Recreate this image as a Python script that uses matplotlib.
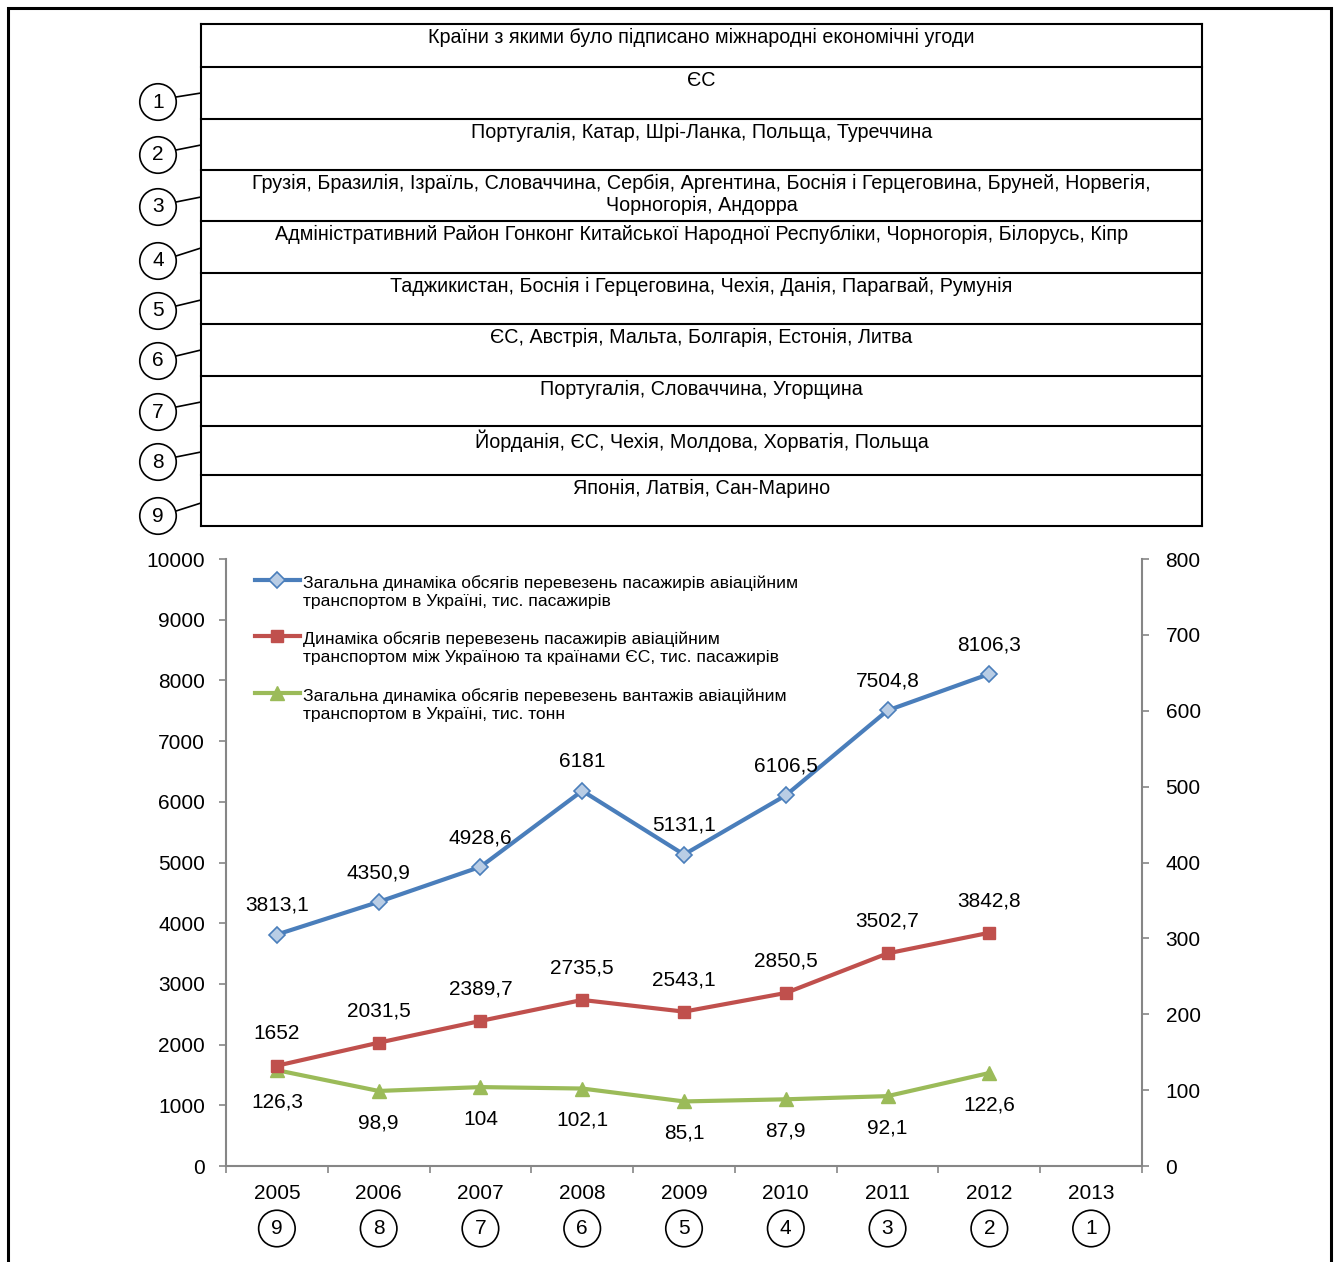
import matplotlib.pyplot as plt
from matplotlib.legend_handler import HandlerLine2D

plt.rcParams['font.family'] = ['Liberation Sans', 'DejaVu Sans']

# data
years = ['2005', '2006', '2007', '2008', '2009', '2010', '2011', '2012', '2013']
year_marks = [9, 8, 7, 6, 5, 4, 3, 2, 1]
total_pass = [3813.1, 4350.9, 4928.6, 6181, 5131.1, 6106.5, 7504.8, 8106.3]
eu_pass = [1652, 2031.5, 2389.7, 2735.5, 2543.1, 2850.5, 3502.7, 3842.8]
cargo = [126.3, 98.9, 104, 102.1, 85.1, 87.9, 92.1, 122.6]

table_header = 'Країни з якими було підписано міжнародні економічні угоди'
table_rows = [
    'ЄС',
    'Португалія, Катар, Шрі-Ланка, Польща, Туреччина',
    'Грузія, Бразилія, Ізраїль, Словаччина, Сербія, Аргентина, Боснія і Герцеговина, Бруней, Норвегія,\nЧорногорія, Андорра',
    'Адміністративний Район Гонконг Китайської Народної Республіки, Чорногорія, Білорусь, Кіпр',
    'Таджикистан, Боснія і Герцеговина, Чехія, Данія, Парагвай, Румунія',
    'ЄС, Австрія, Мальта, Болгарія, Естонія, Литва',
    'Португалія, Словаччина, Угорщина',
    'Йорданія, ЄС, Чехія, Молдова, Хорватія, Польща',
    'Японія, Латвія, Сан-Марино',
]
row_marks = [1, 2, 3, 4, 5, 6, 7, 8, 9]

legend_labels = [
    'Загальна динаміка обсягів перевезень пасажирів авіаційним\nтранспортом в Україні, тис. пасажирів',
    'Динаміка обсягів перевезень пасажирів авіаційним\nтранспортом між Україною та країнами ЄС, тис. пасажирів',
    'Загальна динаміка обсягів перевезень вантажів авіаційним\nтранспортом в Україні, тис. тонн',
]


class FirstLineHandler(HandlerLine2D):
    # put the legend line next to the first text line, not the middle
    shift = 8.5

    def create_artists(self, legend, orig_handle, xdescent, ydescent,
                       width, height, fontsize, trans):
        return super().create_artists(legend, orig_handle, xdescent,
                                      ydescent - 2 * self.shift, width,
                                      height, fontsize, trans)


W, H = 1339, 1262
fig = plt.figure(figsize=(W / 100, H / 100), dpi=100)

# ---- chart ----
ax = fig.add_axes([226 / W, 1 - 1166 / H, (1142 - 226) / W, (1166 - 559) / H])
ax2 = ax.twinx()
ax.set_zorder(ax2.get_zorder() + 1)
ax.patch.set_visible(False)

gray = '#868686'
x = list(range(len(years)))
n = len(total_pass)

l1, = ax.plot(x[:n], total_pass, color='#4a7ebb', lw=3, marker='D', ms=8,
              mfc='#b9cde5', mec='#4a7ebb', mew=1.2, zorder=3)
l2, = ax.plot(x[:n], eu_pass, color='#c0504d', lw=3, marker='s', ms=9,
              mfc='#c0504d', mec='#c0504d', zorder=3)
l3, = ax2.plot(x[:n], cargo, color='#9bbb59', lw=3, marker='^', ms=10,
               mfc='#9bbb59', mec='#9bbb59', zorder=3)


def fmt(v):
    return f'{v:g}'.replace('.', ',')


for xi, v in zip(x, total_pass):
    ax.annotate(fmt(v), (xi, v), xytext=(0, 21), textcoords='offset points',
                ha='center', va='center', fontsize=15)
for xi, v in zip(x, eu_pass):
    ax.annotate(fmt(v), (xi, v), xytext=(0, 23), textcoords='offset points',
                ha='center', va='center', fontsize=15)
for xi, v in zip(x, cargo):
    ax2.annotate(fmt(v), (xi, v), xytext=(0, -23), textcoords='offset points',
                 ha='center', va='center', fontsize=15)

ax.set_xlim(-0.5, len(years) - 0.5)
ax.set_ylim(0, 10000)
ax2.set_ylim(0, 800)
ax.set_yticks(range(0, 10001, 1000))
ax2.set_yticks(range(0, 801, 100))
ax.set_xticks(x)
ax.set_xticklabels(years)
ax.set_xticks([i - 0.5 for i in range(len(years) + 1)], minor=True)

for a in (ax, ax2):
    a.spines['top'].set_visible(False)
    for s in ('left', 'right', 'bottom'):
        a.spines[s].set_color(gray)
        a.spines[s].set_linewidth(1.5)
ax.spines['right'].set_visible(False)
ax2.spines['left'].set_visible(False)
ax2.spines['bottom'].set_visible(False)

ax.tick_params(axis='y', direction='out', length=5, width=1.2, color=gray,
               labelsize=15, pad=10)
ax2.tick_params(axis='y', direction='out', length=5, width=1.2, color=gray,
                labelsize=15, pad=12)
ax.tick_params(axis='x', which='major', length=0, labelsize=15, pad=13)
ax.tick_params(axis='x', which='minor', length=5, width=1.2, color=gray)

for xi, m in zip(x, year_marks):
    ax.annotate(str(m), (xi, 0), xycoords=('data', 'axes fraction'),
                xytext=(0, -45), textcoords='offset points', ha='center',
                va='center', fontsize=15,
                bbox=dict(boxstyle='circle,pad=0.42', fc='white', ec='black', lw=1.2))

leg = ax.legend([l1, l2, l3], legend_labels, loc='upper left',
                bbox_to_anchor=(0.014, 1.0), frameon=False, fontsize=12.6,
                handlelength=2.6, handletextpad=0.15, labelspacing=1.3,
                numpoints=1, handler_map={l1: FirstLineHandler(),
                                          l2: FirstLineHandler(),
                                          l3: FirstLineHandler()})
for t in leg.get_texts():
    t.set_linespacing(1.25)

# ---- table, frame and circles (pixel overlay) ----
ov = fig.add_axes([0, 0, 1, 1])
ov.set_xlim(0, W)
ov.set_ylim(H, 0)
ov.axis('off')
ov.patch.set_visible(False)

ov.plot([8, 8, 1331, 1331], [H, 8, 8, H], color='black', lw=2.2,
        solid_joinstyle='miter')

tl, tr = 201, 1202
row_tops = [24, 67, 119, 170, 221, 273, 324, 376, 426, 475, 526]
for y in row_tops:
    ov.plot([tl, tr], [y, y], color='black', lw=1.5)
ov.plot([tl, tl], [row_tops[0], row_tops[-1]], color='black', lw=1.5)
ov.plot([tr, tr], [row_tops[0], row_tops[-1]], color='black', lw=1.5)

cx = (tl + tr) / 2
ov.text(cx, row_tops[0] + 4, table_header, ha='center', va='top',
        fontsize=14.2, linespacing=1.2)
for top, txt in zip(row_tops[1:], table_rows):
    ov.text(cx, top + 4, txt, ha='center', va='top', fontsize=14.2,
            linespacing=1.2)

circle_y = [102, 155, 207, 261, 311, 361, 412, 462, 516]
link_y = [93, 145, 197, 248, 300, 350, 402, 452, 503]
for m, cy, ly in zip(row_marks, circle_y, link_y):
    ov.plot([176, tl], [cy - 5, ly], color='black', lw=1.2)
    ov.text(158, cy, str(m), ha='center', va='center', fontsize=15,
            bbox=dict(boxstyle='circle,pad=0.42', fc='white', ec='black', lw=1.2))

fig.savefig('out.png', dpi=100)
